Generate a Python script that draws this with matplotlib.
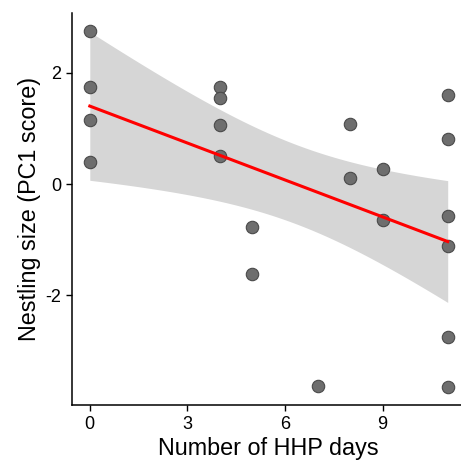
import numpy as np
import matplotlib
matplotlib.use("Agg")
import matplotlib.pyplot as plt

plt.rcParams['font.family'] = ['Liberation Sans', 'DejaVu Sans']
plt.rcParams['axes.unicode_minus'] = False

# HHP days vs nestling size (PC1 score)
hhp_days = [0, 0, 0, 0,
            4, 4, 4, 4,
            5, 5,
            7,
            8, 8,
            9, 9,
            11, 11, 11, 11, 11, 11]
pc1_score = [2.76, 1.75, 1.15, 0.40,
             1.75, 1.55, 1.06, 0.50,
             -0.77, -1.62,
             -3.64,
             1.08, 0.11,
             0.27, -0.65,
             1.60, 0.81, -0.58, -1.12, -2.76, -3.66]

x = np.array(hhp_days, dtype=float)
y = np.array(pc1_score)

# linear fit + 95% CI (like geom_smooth(method="lm"))
n = len(x)
b, a = np.polyfit(x, y, 1)
xs = np.linspace(x.min(), x.max(), 80)
fit = a + b * xs
resid = y - (a + b * x)
s = np.sqrt(np.sum(resid ** 2) / (n - 2))
sxx = np.sum((x - x.mean()) ** 2)
se = s * np.sqrt(1 / n + (xs - x.mean()) ** 2 / sxx)
t = 2.093  # t(0.975, df=19)

fig = plt.figure(figsize=(4.61, 4.63), dpi=100)
ax = fig.add_axes([0.156, 0.125, 0.854, 0.847])

ax.fill_between(xs, fit - t * se, fit + t * se, color='#d6d6d6', lw=0, zorder=1)
ax.scatter(x, y, s=80, facecolor='#6e6e6e', edgecolor='#4a4a4a', lw=0.8, zorder=2)
ax.plot(xs, fit, color='red', lw=2.2, zorder=3)

ax.set_xlim(-0.55, 11.55)
ax.set_ylim(-3.98, 3.08)
ax.set_xticks([0, 3, 6, 9])
ax.set_yticks([-2, 0, 2])

ax.spines['top'].set_visible(False)
ax.spines['right'].set_visible(False)
for sp in ['left', 'bottom']:
    ax.spines[sp].set_linewidth(1.1)
ax.tick_params(length=4, width=1, labelsize=13, colors='black')

ax.set_xlabel('Number of HHP days', fontsize=16.8, labelpad=3)
ax.set_ylabel('Nestling size (PC1 score)', fontsize=16.8, labelpad=3)

fig.savefig('out.png', dpi=100)
